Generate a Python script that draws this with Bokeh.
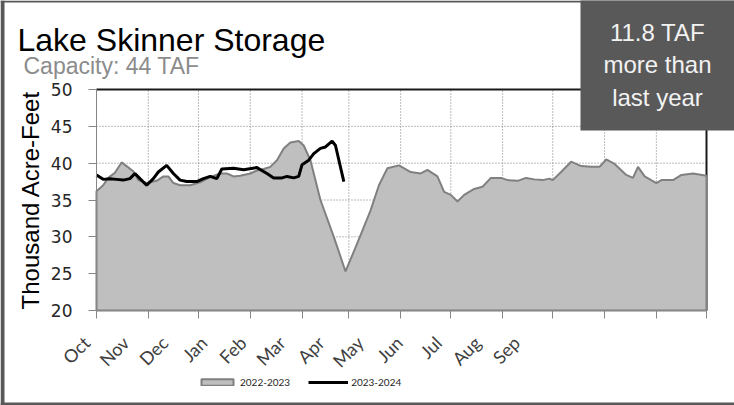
from bokeh.plotting import figure
from bokeh.models import (Range1d, LinearAxis, FixedTicker, Label, BoxAnnotation,
                          Legend, LegendItem)
from bokeh.embed import file_html
from bokeh.resources import INLINE

# ---------------- data ----------------
months = ["Oct", "Nov", "Dec", "Jan", "Feb", "Mar", "Apr", "May", "Jun", "Jul", "Aug", "Sep"]
month_start_day = [0, 31, 61, 92, 123, 151, 182, 212, 243, 273, 304, 335, 365]
y_ticks = [20, 25, 30, 35, 40, 45, 50]

# 2022-2023 storage (thousand acre-feet), day offset from Oct 1
prev_day = [0, 4, 7, 11, 15, 18, 22, 25, 30, 36, 40, 43, 46, 50, 56, 62, 68, 74, 78, 82,
            86, 92, 96, 100, 104, 108, 112, 116, 121, 124, 128, 134, 142, 149, 156, 164,
            169, 174, 181, 188, 194, 198, 204, 208, 212, 216, 220, 226, 231, 236, 242,
            246, 252, 257, 262, 267, 271, 273, 278, 284, 290, 296, 301, 305, 310, 317,
            321, 324, 328, 335, 338, 345, 350, 357, 365]
prev_val = [36.2, 37.0, 38.0, 38.7, 40.1, 39.6, 38.9, 37.7, 37.3, 37.6, 38.2, 38.2, 37.3,
            37.0, 37.0, 37.4, 38.1, 38.6, 38.6, 38.2, 38.3, 38.6, 39.0, 39.2, 39.5, 40.4,
            42.0, 42.8, 43.0, 42.4, 40.4, 35.0, 30.0, 25.3, 29.1, 33.6, 37.0, 39.3, 39.7,
            38.8, 38.6, 39.1, 38.2, 36.1, 35.7, 34.8, 35.7, 36.5, 36.8, 38.0, 38.0, 37.7,
            37.6, 38.0, 37.8, 37.7, 37.9, 37.7, 38.8, 40.2, 39.6, 39.5, 39.5, 40.5, 39.9,
            38.4, 38.0, 39.5, 38.2, 37.3, 37.7, 37.7, 38.4, 38.6, 38.3]

# 2023-2024 storage
curr_day = [0, 4, 8, 12, 16, 20, 23, 26, 30, 34, 37, 42, 46, 50, 54, 60, 64, 68, 72, 75,
            82, 88, 96, 102, 106, 111, 114, 118, 121, 123, 127, 130, 134, 137, 141, 143, 148]
curr_val = [38.4, 37.8, 37.9, 37.8, 37.7, 37.9, 38.6, 37.9, 37.0, 37.9, 38.8, 39.7, 38.6,
            37.7, 37.5, 37.5, 37.9, 38.2, 37.9, 39.2, 39.3, 39.1, 39.4, 38.6, 38.0, 38.0,
            38.2, 38.0, 38.2, 39.8, 40.4, 41.3, 42.0, 42.2, 43.0, 42.4, 37.5]

capacity_taf = 44
diff_taf = 11.8
series_names = ["2022-2023", "2023-2024"]

# ---------------- layout geometry (pixels) ----------------
W, H = 734, 405
PL, PR = 96, 706          # plot area left / right
PT, PB = 89, 310          # plot area top / bottom (from top)
x0, x1 = month_start_day[0], month_start_day[-1]
y0, y1 = y_ticks[0], y_ticks[-1]
kx = (PR - PL) / (x1 - x0)
ky = (PB - PT) / (y1 - y0)

p = figure(width=W, height=H, output_backend="svg", toolbar_location=None,
           x_range=Range1d(x0 - PL / kx, x1 + (W - PR) / kx),
           y_range=Range1d(y0 - (H - PB) / ky, y1 + PT / ky),
           min_border=0, min_border_left=0, min_border_right=0,
           min_border_top=0, min_border_bottom=0)
p.title.visible = False
p.background_fill_color = "white"
p.border_fill_color = "white"
p.outline_line_color = None
p.xgrid.visible = False
p.ygrid.visible = False

# grid lines (dotted) inside the plot area
n_x = len(month_start_day)
p.segment(x0=month_start_day, y0=[y0] * n_x, x1=month_start_day, y1=[y1] * n_x,
          line_color="#7a7a7a", line_dash="1 2", line_width=1)
n_y = len(y_ticks)
p.segment(x0=[x0] * n_y, y0=y_ticks, x1=[x1] * n_y, y1=y_ticks,
          line_color="#7a7a7a", line_dash="1 2", line_width=1)
# plot-area border (top and right)
p.segment(x0=[x0, x1], y0=[y1, y1], x1=[x1, x1], y1=[y1, y0],
          line_color="#1a1a1a", line_width=2)

# area (2022-2023)
xs = [prev_day[0]] + prev_day + [prev_day[-1]]
ys = [y0] + prev_val + [y0]
area = p.patch(xs, ys, fill_color="#bfbfbf", line_color="#808080", line_width=2)
# line (2023-2024)
line = p.line(curr_day, curr_val, line_color="black", line_width=3)

# y axis
yax = p.yaxis[0]
yax.fixed_location = x0
yax.bounds = (y0, y1)
yax.ticker = FixedTicker(ticks=y_ticks)
yax.axis_label = "Thousand Acre-Feet"
yax.axis_label_text_font = "Liberation Sans"
yax.axis_label_text_font_size = "24px"
yax.axis_label_text_font_style = "normal"
yax.axis_label_text_color = "black"
yax.axis_label_standoff = 4
yax.major_label_text_font = "DejaVu Sans"
yax.major_label_text_font_size = "17px"
yax.major_label_text_color = "#262626"
yax.major_label_standoff = 16
yax.major_tick_out = 8
yax.major_tick_in = 0
yax.minor_tick_line_color = None
yax.axis_line_color = "#868686"
yax.major_tick_line_color = "#868686"

# x axis: ticks at month boundaries only
xax = p.xaxis[0]
xax.fixed_location = y0
xax.bounds = (x0, x1)
xax.ticker = FixedTicker(ticks=month_start_day)
xax.major_label_text_color = None
xax.major_tick_out = 8
xax.major_tick_in = 0
xax.minor_tick_line_color = None
xax.axis_line_color = "#868686"
xax.major_tick_line_color = "#868686"

# month label axis (rotated labels, evenly spaced)
step, first = 39.09, 86.0
p.extra_x_ranges = {"lbl": Range1d(-first / step, (W - first) / step)}
lax = LinearAxis(x_range_name="lbl", fixed_location=y0,
                 ticker=FixedTicker(ticks=list(range(len(months)))),
                 major_label_overrides={i: m for i, m in enumerate(months)},
                 major_label_orientation=0.785,
                 major_label_text_font="Lato", major_label_text_font_size="18px",
                 major_label_text_color="#404040", major_label_standoff=29,
                 major_tick_line_color=None, minor_tick_line_color=None,
                 major_tick_out=0, major_tick_in=0, axis_line_color=None)
p.add_layout(lax, "below")

# titles
p.add_layout(Label(x=17, y=H - 39, x_units="screen", y_units="screen",
                   text="Lake Skinner Storage", text_font="Liberation Sans",
                   text_font_size="32px", text_color="black", text_baseline="alphabetic"))
p.add_layout(Label(x=23, y=H - 65, x_units="screen", y_units="screen",
                   text=f"Capacity: {capacity_taf} TAF", text_font="Liberation Sans",
                   text_font_size="23px", text_color="#8c8c8c", text_baseline="alphabetic"))

# annotation box
BX, BB = 580, 130
p.add_layout(BoxAnnotation(left=BX, right=W + 20, bottom=H - BB, top=H + 20,
                           left_units="screen", right_units="screen",
                           bottom_units="screen", top_units="screen",
                           fill_color="#595959", fill_alpha=1.0, line_color=None))
p.add_layout(Label(x=(BX + W) / 2, y=H - 64.5, x_units="screen", y_units="screen",
                   text=f"{diff_taf} TAF\nmore than\nlast year",
                   text_font="Liberation Sans", text_font_size="24px",
                   text_color="#f2f2f2", text_align="center", text_baseline="middle",
                   text_line_height=1.2))

# outer frame of the chart (left, top, bottom strips)
for (l, r, b, t) in [(0, 4, 0, H), (0, W, H - 2, H), (0, W, 0, 3)]:
    p.add_layout(BoxAnnotation(left=l, right=r, bottom=b, top=t,
                               left_units="screen", right_units="screen",
                               bottom_units="screen", top_units="screen",
                               fill_color="#595959", fill_alpha=1.0, line_color=None))

# legend
legend = Legend(items=[LegendItem(label=series_names[0], renderers=[area]),
                       LegendItem(label=series_names[1], renderers=[line])],
                orientation="horizontal", location=(197, H - 383 - 5),
                glyph_width=40, glyph_height=8, label_height=10,
                label_text_font="Lato", label_text_font_size="10px",
                label_text_color="#262626", label_standoff=3, spacing=18,
                padding=0, margin=0, border_line_color=None, background_fill_alpha=0)
p.add_layout(legend)

open("out.html", "w").write(file_html(p, INLINE))
